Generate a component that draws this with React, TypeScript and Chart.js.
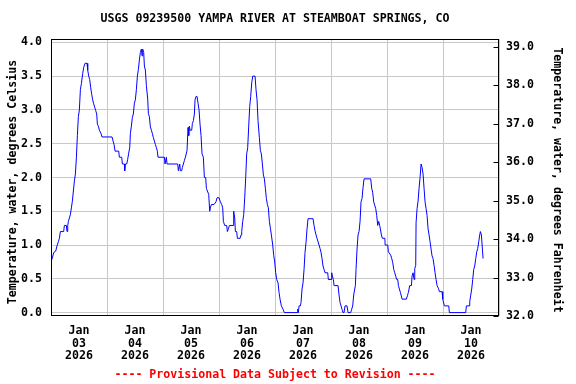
import React, { useEffect, useRef } from 'react';
import { Chart, registerables } from 'chart.js';

Chart.register(...registerables);

// Hours since Jan 03 2026 00:00
const HOURS = [
  0.02, 0.59, 1.16, 2.02, 2.59, 3.16, 3.59, 4.02, 5.45, 5.73, 6.59, 6.87, 7.16, 7.45, 7.87, 8.3, 8.73, 9.16, 9.59, 10.02,
  10.45, 10.87, 11.3, 11.73, 12.16, 12.59, 13.02, 13.59, 14.02, 14.59, 15.45, 15.73, 16.16, 16.59, 17.02, 17.45, 17.87, 18.3, 18.73, 19.16,
  19.59, 19.87, 20.3, 20.73, 21.45, 21.87, 26.16, 26.59, 27.02, 27.45, 29.02, 29.3, 30.3, 30.59, 31.45, 31.59, 31.87, 32.45, 32.87, 33.3,
  33.73, 34.02, 34.45, 34.87, 35.3, 35.73, 36.16, 36.59, 37.02, 37.45, 37.87, 38.3, 38.73, 39.02, 39.3, 39.73, 40.02, 40.45, 40.87, 41.45,
  41.73, 42.16, 42.59, 43.02, 43.45, 43.87, 44.3, 44.73, 45.16, 45.59, 45.87, 48.59, 48.87, 49.45, 49.73, 54.3, 54.59, 55.16, 55.45, 56.02,
  56.3, 56.73, 57.16, 57.59, 58.3, 58.73, 59.02, 59.3, 59.59, 60.3, 60.59, 61.02, 61.45, 61.73, 62.16, 62.59, 63.02, 63.45, 63.87, 64.3,
  64.73, 65.3, 65.73, 66.3, 66.59, 67.02, 67.59, 68.02, 68.3, 68.73, 69.87, 70.73, 71.16, 72.02, 72.59, 73.16, 73.59, 73.87, 74.45, 75.3,
  75.59, 76.02, 76.45, 78.02, 78.3, 78.73, 79.02, 79.59, 79.87, 81.02, 81.45, 81.73, 82.16, 82.59, 83.02, 83.45, 83.87, 84.3, 84.73, 85.16,
  85.59, 86.02, 86.45, 87.45, 87.87, 88.3, 88.73, 89.3, 89.73, 90.16, 90.59, 91.02, 91.45, 91.87, 92.3, 92.73, 93.16, 93.59, 94.02, 94.45,
  95.02, 95.45, 95.87, 96.3, 96.73, 97.3, 97.73, 98.16, 98.73, 99.45, 100.02, 105.45, 105.73, 106.02, 106.3, 106.87, 107.16, 107.59, 108.02, 108.45,
  108.87, 109.3, 109.73, 110.16, 112.3, 112.73, 113.16, 113.59, 114.02, 114.87, 115.3, 115.73, 116.16, 116.59, 117.02, 117.45, 118.59, 118.87, 120.02, 120.3,
  120.59, 121.02, 121.3, 123.02, 123.45, 123.87, 124.3, 124.73, 125.16, 125.59, 126.02, 126.87, 127.3, 128.45, 128.87, 129.3, 129.73, 130.16, 130.45, 130.73,
  131.16, 131.59, 132.02, 132.45, 132.87, 133.3, 133.73, 134.16, 137.02, 137.45, 137.87, 138.3, 138.73, 139.16, 139.59, 140.02, 140.45, 140.87, 141.16, 141.59,
  142.02, 143.1, 143.2, 144.31, 144.6, 145.6, 146.03, 146.46, 146.89, 147.31, 147.74, 148.17, 148.6, 148.89, 149.31, 149.74, 150.46, 152.31, 152.74, 153.17,
  153.74, 154.46, 154.74, 155.17, 155.6, 155.89, 156.31, 156.46, 156.89, 157.31, 157.74, 158.17, 158.6, 159.03, 159.46, 159.89, 160.31, 160.74, 161.17, 161.6,
  162.03, 162.46, 162.89, 163.31, 163.74, 164.17, 164.6, 165.03, 165.46, 166.03, 166.46, 167.6, 167.89, 168.6, 170.46, 170.74, 177.74, 178.03, 179.17, 179.46,
  179.89, 180.31, 180.74, 181.17, 181.6, 182.03, 182.46, 182.89, 183.31, 183.74, 184.03, 184.46, 184.89, 185.17,
];

const TEMP_C = [
  0.76, 0.81, 0.89, 0.91, 0.99, 1.05, 1.1, 1.2, 1.2, 1.29, 1.29, 1.2, 1.29, 1.35, 1.4, 1.45, 1.55, 1.65, 1.8, 1.95,
  2.05, 2.29, 2.62, 2.9, 3.0, 3.3, 3.39, 3.54, 3.63, 3.69, 3.69, 3.59, 3.5, 3.45, 3.33, 3.23, 3.15, 3.09, 3.04, 2.99,
  2.94, 2.79, 2.76, 2.7, 2.65, 2.6, 2.6, 2.54, 2.49, 2.39, 2.39, 2.3, 2.3, 2.2, 2.2, 2.1, 2.2, 2.2, 2.27, 2.36,
  2.44, 2.65, 2.76, 2.89, 2.94, 3.1, 3.15, 3.3, 3.5, 3.6, 3.74, 3.85, 3.9, 3.8, 3.9, 3.85, 3.65, 3.59, 3.36, 3.16,
  2.95, 2.9, 2.75, 2.7, 2.65, 2.59, 2.54, 2.49, 2.44, 2.39, 2.3, 2.3, 2.2, 2.3, 2.2, 2.2, 2.1, 2.2, 2.1, 2.1,
  2.15, 2.2, 2.25, 2.3, 2.4, 2.74, 2.62, 2.76, 2.7, 2.7, 2.8, 2.84, 2.94, 3.15, 3.2, 3.2, 3.1, 3.0, 2.79, 2.62,
  2.35, 2.3, 2.0, 2.0, 1.84, 1.8, 1.75, 1.5, 1.55, 1.6, 1.6, 1.64, 1.7, 1.7, 1.64, 1.6, 1.55, 1.35, 1.29, 1.29,
  1.2, 1.24, 1.29, 1.29, 1.5, 1.4, 1.2, 1.2, 1.1, 1.1, 1.15, 1.2, 1.35, 1.45, 1.7, 2.0, 2.35, 2.44, 2.76, 3.05,
  3.2, 3.4, 3.5, 3.5, 3.3, 3.15, 2.84, 2.59, 2.4, 2.35, 2.2, 2.04, 1.98, 1.84, 1.69, 1.6, 1.55, 1.35, 1.25, 1.15,
  1.0, 0.85, 0.75, 0.59, 0.49, 0.44, 0.3, 0.2, 0.1, 0.05, 0.0, 0.0, 0.05, 0.0, 0.1, 0.1, 0.15, 0.35, 0.44, 0.64,
  0.89, 1.04, 1.24, 1.39, 1.39, 1.29, 1.21, 1.15, 1.1, 1.0, 0.95, 0.89, 0.8, 0.69, 0.64, 0.59, 0.59, 0.49, 0.49, 0.59,
  0.54, 0.49, 0.4, 0.4, 0.26, 0.15, 0.1, 0.05, 0.0, 0.0, 0.1, 0.1, 0.0, 0.0, 0.05, 0.1, 0.26, 0.35, 0.4, 0.64,
  0.94, 1.15, 1.2, 1.35, 1.64, 1.69, 1.85, 1.98, 1.98, 1.84, 1.78, 1.64, 1.59, 1.54, 1.44, 1.29, 1.35, 1.29, 1.24, 1.15,
  1.1, 1.1, 1.0, 1.0, 0.9, 0.85, 0.8, 0.74, 0.64, 0.59, 0.54, 0.49, 0.49, 0.4, 0.35, 0.3, 0.2, 0.2, 0.25, 0.3,
  0.4, 0.4, 0.54, 0.59, 0.49, 0.65, 0.7, 1.33, 1.54, 1.65, 1.84, 2.0, 2.2, 2.15, 2.05, 1.84, 1.64, 1.54, 1.44, 1.24,
  1.15, 1.05, 0.94, 0.84, 0.8, 0.7, 0.59, 0.49, 0.4, 0.36, 0.31, 0.31, 0.2, 0.1, 0.1, 0.0, 0.0, 0.1, 0.1, 0.16,
  0.26, 0.35, 0.49, 0.64, 0.69, 0.8, 0.9, 0.95, 1.05, 1.15, 1.2, 1.15, 0.94, 0.8,
];

const C_TICKS = [0, 0.5, 1, 1.5, 2, 2.5, 3, 3.5, 4];
const F_TICKS = [32, 33, 34, 35, 36, 37, 38, 39];
const DAY_GRID_HOURS = [0, 24, 48, 72, 96, 120, 144, 168, 192];
const DAY_LABEL_HOURS = [12, 36, 60, 84, 108, 132, 156, 180];
const DAY_LABELS = ['03', '04', '05', '06', '07', '08', '09', '10'];
const MONTH_LABEL = 'Jan';
const YEAR_LABEL = '2026';
const TITLE = 'USGS 09239500 YAMPA RIVER AT STEAMBOAT SPRINGS, CO';
const Y_LEFT_TITLE = 'Temperature, water, degrees Celsius';
const Y_RIGHT_TITLE = 'Temperature, water, degrees Fahrenheit';
const NOTE = '---- Provisional Data Subject to Revision ----';

const FONT_FAMILY = '"DejaVu Sans Mono", "Liberation Mono", monospace';
const FONT_SIZE = 11.6;
const GRID = 'rgb(200,200,200)';

const framePlugin = {
  id: 'usgsFrame',
  afterDraw(chart: any) {
    const { ctx, chartArea: a } = chart;
    ctx.save();
    ctx.font = `bold ${FONT_SIZE}px ${FONT_FAMILY}`;
    ctx.fillStyle = '#000';
    ctx.strokeStyle = '#000';
    ctx.lineWidth = 1;
    const l = Math.round(a.left) + 0.5;
    const r = Math.round(a.right) - 0.5;
    const t = Math.round(a.top) + 0.5;
    const b = Math.round(a.bottom) - 0.5;
    ctx.strokeRect(l, t, r - l, b - t);
    // inward tick marks for Fahrenheit axis
    const fScale = chart.scales.yF;
    F_TICKS.forEach((v) => {
      const y = Math.round(fScale.getPixelForValue(v)) + 0.5;
      ctx.beginPath();
      ctx.moveTo(r - 5, y);
      ctx.lineTo(r, y);
      ctx.stroke();
    });
    const cx = (a.left + a.right) / 2;
    ctx.textAlign = 'center';
    ctx.textBaseline = 'middle';
    ctx.fillText(TITLE, cx, 19);
    ctx.fillStyle = '#ff0000';
    ctx.fillText(NOTE, cx, 375);
    ctx.fillStyle = '#000';
    ctx.save();
    ctx.translate(13, 182);
    ctx.rotate(-Math.PI / 2);
    ctx.fillText(Y_LEFT_TITLE, 0, 0);
    ctx.restore();
    ctx.save();
    ctx.translate(557, 180);
    ctx.rotate(Math.PI / 2);
    ctx.fillText(Y_RIGHT_TITLE, 0, 0);
    ctx.restore();
    ctx.restore();
  },
};

export default function App() {
  const ref = useRef<HTMLCanvasElement | null>(null);

  useEffect(() => {
    if (!ref.current) return;
    const font = { family: FONT_FAMILY, size: FONT_SIZE, weight: 'bold' as const, lineHeight: 1.12 };
    const points = HOURS.map((h, i) => ({ x: h, y: TEMP_C[i] }));
    const chart = new Chart(ref.current, {
      type: 'line',
      data: {
        datasets: [
          {
            data: points,
            borderColor: '#0000ff',
            borderWidth: 1,
            pointRadius: 0,
            tension: 0,
            fill: false,
            yAxisID: 'y',
          },
        ],
      },
      options: {
        animation: false,
        responsive: false,
        devicePixelRatio: 1,
        parsing: false as any,
        layout: { padding: { top: 39, left: 0, right: 0, bottom: 0 } },
        plugins: { legend: { display: false }, tooltip: { enabled: false }, title: { display: false } },
        scales: {
          x: {
            type: 'linear',
            position: 'bottom',
            min: 0,
            max: 192,
            afterFit: (s: any) => { s.height = 68; },
            afterBuildTicks: (s: any) => {
              const all = [...DAY_GRID_HOURS, ...DAY_LABEL_HOURS].sort((p, q) => p - q);
              s.ticks = all.map((v) => ({ value: v }));
            },
            ticks: {
              autoSkip: false,
              maxRotation: 0,
              minRotation: 0,
              padding: 8,
              color: '#000',
              font,
              callback: (v: any) => {
                const i = DAY_LABEL_HOURS.indexOf(Number(v));
                return i >= 0 ? [MONTH_LABEL, DAY_LABELS[i], YEAR_LABEL] : '';
              },
            },
            grid: {
              drawTicks: false,
              color: (c: any) => (c.tick && DAY_GRID_HOURS.includes(c.tick.value) ? GRID : 'rgba(0,0,0,0)'),
            },
            border: { display: false },
          },
          y: {
            type: 'linear',
            position: 'left',
            min: -0.05,
            max: 4.05,
            afterFit: (s: any) => { s.width = 51; },
            afterBuildTicks: (s: any) => { s.ticks = C_TICKS.map((v) => ({ value: v })); },
            ticks: {
              padding: 9,
              color: '#000',
              font,
              callback: (v: any) => Number(v).toFixed(1),
            },
            grid: { drawTicks: false, color: GRID },
            border: { display: false },
          },
          yF: {
            type: 'linear',
            position: 'right',
            min: 32,
            max: 39.2,
            afterFit: (s: any) => { s.width = 77; },
            afterBuildTicks: (s: any) => { s.ticks = F_TICKS.map((v) => ({ value: v })); },
            ticks: {
              padding: 7,
              color: '#000',
              font,
              callback: (v: any) => Number(v).toFixed(1),
            },
            grid: { drawOnChartArea: false, drawTicks: false },
            border: { display: false },
          },
        },
      },
      plugins: [framePlugin],
    });
    return () => chart.destroy();
  }, []);

  return (
    <div style={{ position: 'absolute', left: 0, top: 0, width: 576, height: 384, background: '#fff' }}>
      <canvas ref={ref} width={576} height={384} style={{ display: 'block', width: 576, height: 384 }} />
    </div>
  );
}
